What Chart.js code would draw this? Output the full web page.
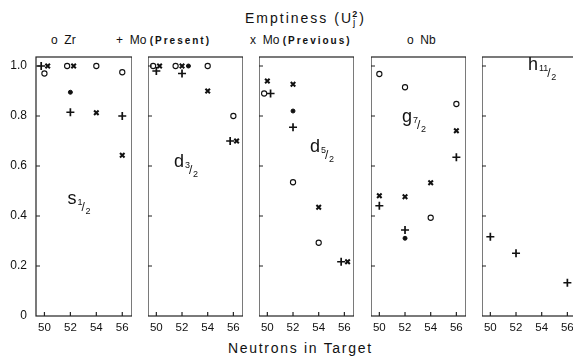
<!doctype html>
<html lang="en">
<head>
  <meta charset="utf-8">
  <title>Emptiness</title>
  <style>
    html, body { margin: 0; padding: 0; background: #fff; overflow: hidden; }
    body { width: 573px; height: 358px; position: relative; font-family: 'Liberation Sans', Arial, sans-serif; color: #111; }
    .txt { position: absolute; white-space: nowrap; }
    .panel { position: absolute; top: 50px; height: 308px; }
    .small { font-size: 10px; letter-spacing: 2px; font-weight: bold; }
  </style>
</head>
<body>
  <div class="txt" style="left:245px; top:9px; font-size:14px; letter-spacing:2px;">Emptiness (U<sub style="font-size:10px;">j</sub><sup style="font-size:9px; margin-left:-5px; font-weight:bold;">2</sup>)</div>

  <div class="txt" style="left:51px; top:33px; font-size:12px;">o&nbsp;&nbsp;Zr</div>
  <div class="txt" style="left:116px; top:33px; font-size:12px;">+&nbsp;&nbsp;Mo <span class="small">(Present)</span></div>
  <div class="txt" style="left:250px; top:33px; font-size:12px;">x&nbsp;&nbsp;Mo <span class="small">(Previous)</span></div>
  <div class="txt" style="left:407px; top:33px; font-size:12px;">o&nbsp;&nbsp;Nb</div>

  <div class="txt" style="left:228px; top:340px; font-size:14px; letter-spacing:1.7px;">Neutrons in Target</div>

  <canvas class="panel" id="p0" width="132" height="308" style="left:0px; width:132px;"></canvas>
  <canvas class="panel" id="p1" width="95" height="308" style="left:148px; width:95px;"></canvas>
  <canvas class="panel" id="p2" width="95" height="308" style="left:259px; width:95px;"></canvas>
  <canvas class="panel" id="p3" width="95" height="308" style="left:371px; width:95px;"></canvas>
  <canvas class="panel" id="p4" width="95" height="308" style="left:482px; width:95px;"></canvas>

  <script src="https://cdn.jsdelivr.net/npm/chart.js"></script>
  <script>
    // data: rows = orbital panels, columns = neutrons in target
    const neutrons = [50, 52, 54, 56];
    const orbitals = ['s', 'd', 'd', 'g', 'h'];
    const spins = ['1/2', '3/2', '5/2', '7/2', '11/2'];
    const yTicks = [0, 0.2, 0.4, 0.6, 0.8, 1.0];

    const zr = [
      [0.97, 1.0, 1.0, 0.975],
      [1.0, 1.0, 1.0, 0.80],
      [0.89, 0.535, 0.293, null],
      [0.968, 0.915, 0.393, 0.848],
      [null, null, null, null]
    ];
    const moPresent = [
      [1.0, 0.815, null, 0.80],
      [0.98, 0.97, null, 0.70],
      [0.89, 0.755, null, 0.217],
      [0.441, 0.344, null, 0.635],
      [0.317, 0.251, null, 0.133]
    ];
    const moPrevious = [
      [1.0, 1.0, 0.813, 0.643],
      [1.0, 1.0, 0.90, 0.70],
      [0.94, 0.927, 0.435, 0.217],
      [0.481, 0.477, 0.533, 0.741],
      [null, null, null, null]
    ];
    const nb = [
      [null, 0.895, null, null],
      [null, 1.0, null, null],
      [null, 0.82, null, null],
      [null, 0.311, null, null],
      [null, null, null, null]
    ];

    const ink = '#111';
    const fontFam = "'Liberation Sans', Arial, sans-serif";
    const series = [
      { label: 'Zr', values: zr, pointStyle: 'circle', radius: 2.6, borderWidth: 1.1, bg: '#fff' },
      { label: 'Mo (Present)', values: moPresent, pointStyle: 'cross', radius: 4, borderWidth: 1.7, bg: ink },
      { label: 'Mo (Previous)', values: moPrevious, pointStyle: 'crossRot', radius: 3.2, borderWidth: 2, bg: ink },
      { label: 'Nb', values: nb, pointStyle: 'circle', radius: 2, borderWidth: 1, bg: ink }
    ];

    // orbital label anchor, in axis units
    const labelAt = [[51.77, 0.448], [51.38, 0.596], [53.32, 0.656], [51.77, 0.776], [52.93, 0.984]];

    // nudge symbols sideways when several sit at the same value
    function dodge(p, i, s) {
      const groups = [];
      series.forEach((ser, k) => {
        const v = ser.values[p][i];
        if (v == null) return;
        let g = groups.find(g => Math.abs(g.y - v) < 0.012);
        if (!g) { g = { y: v, members: [] }; groups.push(g); }
        g.members.push(k);
      });
      const g = groups.find(g => g.members.includes(s));
      const n = g.members.length;
      return (g.members.indexOf(s) - (n - 1) / 2) * 0.5;
    }

    const framePlugin = {
      id: 'frame',
      afterDatasetsDraw(chart, args, opts) {
        const { ctx, chartArea: a, scales } = chart;
        ctx.save();
        ctx.strokeStyle = '#222';
        ctx.lineWidth = 1.2;
        ctx.strokeRect(a.left, a.top, a.right - a.left, a.bottom - a.top);
        ctx.beginPath();
        neutrons.forEach(n => {
          const x = scales.x.getPixelForValue(n);
          ctx.moveTo(x, a.bottom); ctx.lineTo(x, a.bottom - 4);
        });
        yTicks.slice(1).forEach(v => {
          const y = scales.y.getPixelForValue(v);
          ctx.moveTo(a.left, y); ctx.lineTo(a.left + 4, y);
        });
        ctx.stroke();

        // orbital label, e.g. d 3/2
        const p = opts.panel;
        const px = scales.x.getPixelForValue(labelAt[p][0]);
        const py = scales.y.getPixelForValue(labelAt[p][1]);
        ctx.fillStyle = ink;
        ctx.textBaseline = 'alphabetic';
        ctx.font = '18px ' + fontFam;
        ctx.fillText(orbitals[p], px, py);
        let x0 = px + ctx.measureText(orbitals[p]).width + 1;
        const [num, den] = spins[p].split('/');
        ctx.font = '9px ' + fontFam;
        ctx.fillText(num, x0, py + 1);
        x0 += ctx.measureText(num).width;
        ctx.font = '12px ' + fontFam;
        ctx.fillText('/', x0 - 1, py + 7);
        ctx.font = '9px ' + fontFam;
        ctx.fillText(den, x0 + 3, py + 10);
        ctx.restore();
      }
    };

    function buildPanel(p) {
      const canvas = document.getElementById('p' + p);
      const datasets = series.map((ser, s) => ({
        label: ser.label,
        data: neutrons.map((n, i) => ser.values[p][i] == null ? null :
          { x: n + dodge(p, i, s), y: ser.values[p][i] }).filter(d => d),
        showLine: false,
        pointStyle: ser.pointStyle,
        pointRadius: ser.radius,
        pointBorderWidth: ser.borderWidth,
        pointBorderColor: ink,
        pointBackgroundColor: ser.bg
      }));

      return new Chart(canvas, {
        type: 'scatter',
        data: { datasets },
        options: {
          responsive: false,
          animation: false,
          devicePixelRatio: 1,
          layout: { autoPadding: false, padding: { top: 7, left: 0, right: 0, bottom: 0 } },
          plugins: { legend: { display: false }, tooltip: { enabled: false }, frame: { panel: p } },
          scales: {
            x: {
              type: 'linear', min: 49.35, max: 56.75,
              afterBuildTicks: sc => { sc.ticks = neutrons.map(v => ({ value: v })); },
              afterFit: sc => { sc.height = 42; sc.paddingLeft = 0; sc.paddingRight = 0; },
              grid: { display: false, drawTicks: false },
              border: { display: false },
              ticks: { color: ink, padding: 5, font: { family: fontFam, size: 11.5 }, autoSkip: false, maxRotation: 0 }
            },
            y: {
              display: p === 0,
              min: 0, max: 1.036,
              afterBuildTicks: sc => { sc.ticks = yTicks.map(v => ({ value: v })); },
              afterFit: sc => { sc.width = p === 0 ? 36 : 0; sc.paddingTop = 0; sc.paddingBottom = 0; },
              grid: { display: false, drawTicks: false },
              border: { display: false },
              ticks: {
                color: ink, padding: 9, font: { family: fontFam, size: 12 },
                callback: v => v === 0 ? '0' : v.toFixed(1)
              }
            }
          }
        },
        plugins: [framePlugin]
      });
    }

    document.addEventListener('DOMContentLoaded', () => {
      orbitals.forEach((o, p) => buildPanel(p));
    });
  </script>
</body>
</html>
